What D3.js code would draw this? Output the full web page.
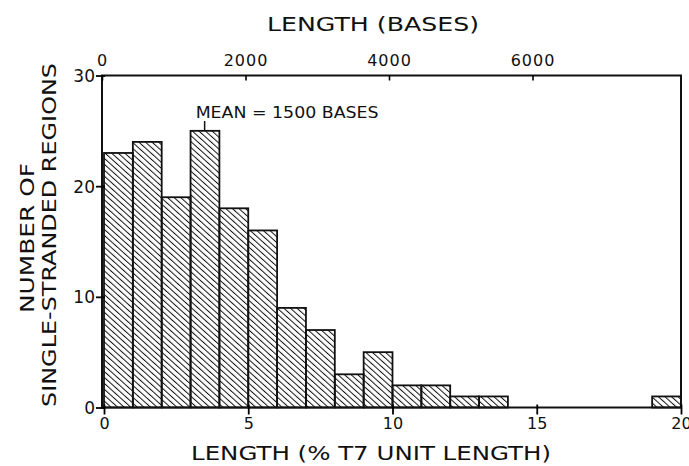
<!DOCTYPE html>
<html>
<head>
<meta charset="utf-8">
<script src="https://cdn.jsdelivr.net/npm/d3@7"></script>
<style>
  body { margin: 0; background: #fff; }
  svg text { font-family: "DejaVu Sans", sans-serif; fill: #111; }
</style>
</head>
<body>
<div class="chart"></div>
<script>
// data
const binStart = [0, 1, 2, 3, 4, 5, 6, 7, 8, 9, 10, 11, 12, 13, 14, 15, 16, 17, 18, 19]
const counts   = [23, 24, 19, 25, 18, 16, 9, 7, 3, 5, 2, 2, 1, 1, 0, 0, 0, 0, 0, 1]
const pctTicks = [0, 5, 10, 15, 20]
const baseTicks = [0, 2000, 4000, 6000]
const countTicks = [0, 10, 20, 30]
const meanBases = 1500

const bins = binStart.map((s, i) => ({ x0: s, x1: s + 1, n: counts[i] }))

const width = 689, height = 466
const margin = ({ top: 76, right: 8, bottom: 58, left: 102 })

const svg = d3.select(".chart").append("svg")
    .attr("width", width)
    .attr("height", height)

// scales
const x = d3.scaleLinear().domain([0, 20]).range([104, width - margin.right])
const xBases = d3.scaleLinear().domain([0, 8000]).range([margin.left, 676])
const y = d3.scaleLinear().domain([0, 30]).range([height - margin.bottom - 0.5, margin.top - 0.5])

// hatch pattern
svg.append("defs").append("pattern")
    .attr("id", "hatch")
    .attr("patternUnits", "userSpaceOnUse")
    .attr("width", 4.4).attr("height", 4.4)
    .attr("patternTransform", "rotate(-48)")
  .append("line")
    .attr("x1", 0).attr("y1", 0).attr("x2", 0).attr("y2", 4.4)
    .attr("stroke", "#111").attr("stroke-width", 2)

// bars
svg.append("g").selectAll("rect")
    .data(bins.filter(d => d.n > 0))
    .join("rect")
    .attr("x", d => x(d.x0))
    .attr("y", d => y(d.n))
    .attr("width", d => x(d.x1) - x(d.x0))
    .attr("height", d => y(0) - y(d.n))
    .attr("fill", "url(#hatch)")
    .attr("stroke", "#111")
    .attr("stroke-width", 1.8)

// frame
const x0 = margin.left, x1 = width - margin.right, yTop = y(30), yBot = y(0)
svg.append("path")
    .attr("d", `M${x0},${yTop}L${x1},${yTop}L${x1},${yBot}L${x0},${yBot}Z`)
    .attr("fill", "none")
    .attr("stroke", "#111")
    .attr("stroke-width", 2)

// bottom axis
const gx = svg.append("g")
    .attr("transform", `translate(0,${yBot})`)
    .call(d3.axisBottom(x).tickValues(pctTicks).tickFormat(d3.format("d")).tickSize(7).tickPadding(3))
gx.select(".domain").remove()
gx.selectAll(".tick line").attr("y1", -3).attr("stroke-width", 1.8)
gx.selectAll("text").attr("font-size", 16)

// top axis (bases)
const gt = svg.append("g")
    .attr("transform", `translate(0,${yTop})`)
    .call(d3.axisTop(xBases).tickValues(baseTicks).tickFormat(d3.format("d")).tickSize(-5).tickPadding(10))
gt.select(".domain").remove()
gt.selectAll(".tick line").attr("stroke-width", 1.6)
gt.selectAll("text").attr("font-size", 16).attr("letter-spacing", 1)

// left axis
const gy = svg.append("g")
    .attr("transform", `translate(${x0},0)`)
    .call(d3.axisLeft(y).tickValues(countTicks).tickSize(6).tickPadding(1))
gy.select(".domain").remove()
gy.selectAll(".tick line").attr("x2", -6).attr("x1", 3).attr("stroke-width", 1.8)
gy.selectAll("text").attr("font-size", 17).attr("dy", "0.36em")

// titles
svg.append("text")
    .attr("x", 373).attr("y", 31)
    .attr("text-anchor", "middle")
    .attr("font-size", 20)
    .attr("textLength", 212).attr("lengthAdjust", "spacingAndGlyphs")
    .text("LENGTH (BASES)")

svg.append("text")
    .attr("x", 371).attr("y", 460)
    .attr("text-anchor", "middle")
    .attr("font-size", 20)
    .attr("textLength", 360).attr("lengthAdjust", "spacingAndGlyphs")
    .text("LENGTH (% T7 UNIT LENGTH)")

svg.append("text")
    .attr("transform", "translate(34,238) rotate(-90)")
    .attr("text-anchor", "middle")
    .attr("font-size", 20)
    .attr("textLength", 150).attr("lengthAdjust", "spacingAndGlyphs")
    .text("NUMBER OF")

svg.append("text")
    .attr("transform", "translate(56,235) rotate(-90)")
    .attr("text-anchor", "middle")
    .attr("font-size", 20)
    .attr("textLength", 344).attr("lengthAdjust", "spacingAndGlyphs")
    .text("SINGLE-STRANDED REGIONS")

// mean annotation
const mx = xBases(meanBases) - 5
svg.append("line")
    .attr("x1", mx).attr("x2", mx)
    .attr("y1", 121).attr("y2", y(25))
    .attr("stroke", "#111").attr("stroke-width", 1.5)

svg.append("text")
    .attr("x", mx - 9).attr("y", 118)
    .attr("font-size", 15)
    .attr("textLength", 183).attr("lengthAdjust", "spacingAndGlyphs")
    .text("MEAN = 1500 BASES")
</script>
</body>
</html>
